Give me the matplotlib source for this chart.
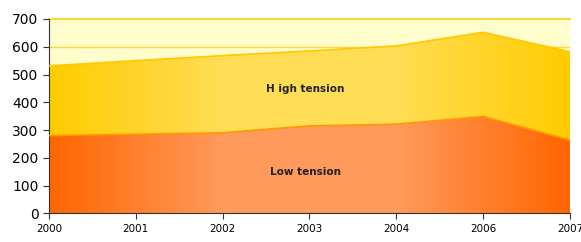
import numpy as np
import matplotlib.pyplot as plt
from matplotlib.colors import LinearSegmentedColormap
from matplotlib.patches import Polygon

years = ["2000", "2001", "2002", "2003", "2004", "2006", "2007"]
low_tension = [280, 285, 290, 315, 321, 349, 264]
high_tension = [251, 265, 278, 270, 282, 303, 318]

x = np.arange(len(years))
low = np.array(low_tension)
top = low + np.array(high_tension)

fig = plt.figure(figsize=(5.81, 2.42), dpi=100)
ax = fig.add_axes([0.0843, 0.1186, 0.8967, 0.8029])
ax.set_xlim(0, len(years) - 1)
ax.set_ylim(0, 700)

# plot area background
ax.set_facecolor("#FFFDCC")
ax.axhline(600, color="#FFD633", lw=1, zorder=1)
ax.axhline(700, color="#FFD633", lw=1.5, zorder=1, clip_on=False)


def gradient_fill(y0, y1, colors, edge):
    cmap = LinearSegmentedColormap.from_list("g", colors)
    grad = np.linspace(0, 1, 256).reshape(1, -1)
    im = ax.imshow(grad, cmap=cmap, aspect="auto", extent=[0, len(years) - 1, 0, 700],
                   origin="lower", zorder=2)
    verts = list(zip(x, y1)) + list(zip(x[::-1], y0[::-1]))
    poly = Polygon(verts, closed=True, facecolor="none", edgecolor="none")
    ax.add_patch(poly)
    im.set_clip_path(poly)
    ax.plot(x, y1, color=edge, lw=1.2, zorder=3)


gradient_fill(low, top, ["#FFCC00", "#FFDD55", "#FFDD55", "#FFCC00"], "#FFC800")
gradient_fill(np.zeros(len(x)), low, ["#FF6600", "#FF9A5C", "#FF9A5C", "#FF6600"], "#FF9900")

ax.text(2.95, 448, "H igh tension", ha="center", va="center", fontsize=7.5,
        fontweight="bold", color="#222222", zorder=4)
ax.text(2.95, 149, "Low tension", ha="center", va="center", fontsize=7.5,
        fontweight="bold", color="#222222", zorder=4)

ax.set_xticks(x)
ax.set_xticklabels(years, fontsize=7.5)
ax.set_yticks(range(0, 701, 100))
ax.tick_params(axis="y", labelsize=10, length=4, color="#333333")
ax.tick_params(axis="x", length=4, color="#333333")
for s in ["top", "right"]:
    ax.spines[s].set_visible(False)
ax.spines["left"].set_color("#333333")
ax.spines["bottom"].set_color("#333333")

fig.savefig("out.png", dpi=100)
